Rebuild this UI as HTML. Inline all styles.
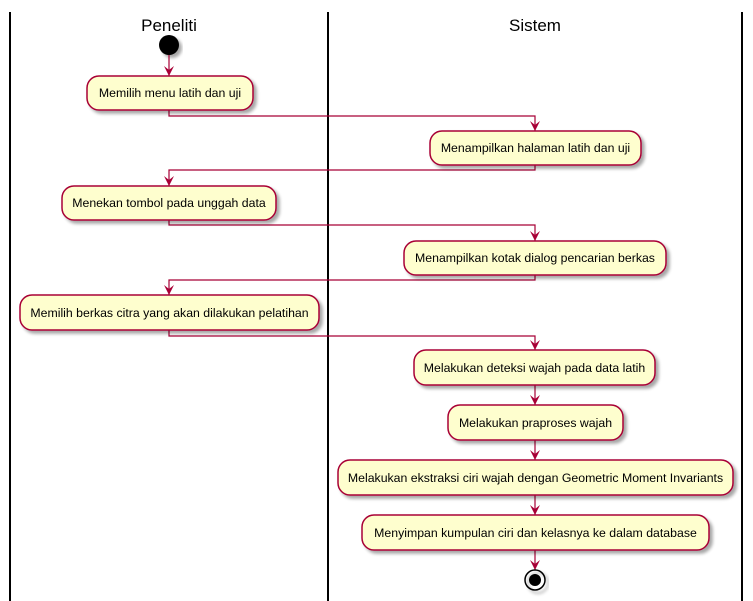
<!DOCTYPE html>
<html><head><meta charset="utf-8"><style>
html,body{margin:0;padding:0;background:#fff;width:753px;height:601px;overflow:hidden}
text{font-family:"Liberation Sans",sans-serif;font-size:12.3px;fill:#000}
</style></head><body>
<svg width="753" height="601" viewBox="0 0 753 601" xmlns="http://www.w3.org/2000/svg">
<defs>
<filter id="sh" x="-10%" y="-20%" width="130%" height="160%"><feGaussianBlur in="SourceAlpha" stdDeviation="1.5"/><feOffset dx="3" dy="3"/><feComponentTransfer><feFuncA type="linear" slope="0.35"/></feComponentTransfer><feMerge><feMergeNode/><feMergeNode in="SourceGraphic"/></feMerge></filter>
</defs>
<g stroke="#000" stroke-width="2">
<line x1="10" y1="12" x2="10" y2="601"/><line x1="328" y1="12" x2="328" y2="601"/><line x1="742" y1="12" x2="742" y2="601"/>
</g>
<text x="169" y="31" text-anchor="middle" style="font-size:17px">Peneliti</text>
<text x="535" y="31" text-anchor="middle" style="font-size:17px">Sistem</text>
<circle cx="169" cy="45" r="10" fill="#000" filter="url(#sh)"/>
<g fill="none" stroke="#A80036" stroke-width="1.2">
<path d="M169,55 V76"/>
<path d="M169,110 V116 H535 V131"/>
<path d="M535,165 V170 H169 V186"/>
<path d="M169,220 V225 H535 V241"/>
<path d="M535,275 V280 H169 V295"/>
<path d="M169,330 V336 H535 V350"/>
<path d="M535,385 V405"/>
<path d="M535,440 V460"/>
<path d="M535,495 V515"/>
<path d="M535,550 V570"/>
</g>
<g fill="#A80036">
<path d="M164,66 L169,76 L174,66 L169,70Z"/>
<path d="M530,121 L535,131 L540,121 L535,125Z"/>
<path d="M164,176 L169,186 L174,176 L169,180Z"/>
<path d="M530,231 L535,241 L540,231 L535,235Z"/>
<path d="M164,285 L169,295 L174,285 L169,289Z"/>
<path d="M530,340 L535,350 L540,340 L535,344Z"/>
<path d="M530,395 L535,405 L540,395 L535,399Z"/>
<path d="M530,450 L535,460 L540,450 L535,454Z"/>
<path d="M530,505 L535,515 L540,505 L535,509Z"/>
<path d="M530,560 L535,570 L540,560 L535,564Z"/>
</g>
<g fill="#FEFECE" stroke="#A80036" stroke-width="1.5" filter="url(#sh)">
<rect x="87" y="76" width="166" height="34" rx="12"/>
<rect x="430" y="131" width="211" height="34" rx="12"/>
<rect x="62" y="186" width="214" height="34" rx="12"/>
<rect x="404" y="241" width="262" height="34" rx="12"/>
<rect x="20" y="295" width="299" height="35" rx="12"/>
<rect x="414" y="350" width="241" height="35" rx="12"/>
<rect x="448" y="405" width="175" height="35" rx="12"/>
<rect x="338" y="460" width="395" height="35" rx="12"/>
<rect x="362" y="515" width="347" height="35" rx="12"/>
</g>
<text x="170" y="97" text-anchor="middle">Memilih menu latih dan uji</text>
<text x="535.5" y="152" text-anchor="middle">Menampilkan halaman latih dan uji</text>
<text x="169" y="207" text-anchor="middle">Menekan tombol pada unggah data</text>
<text x="535" y="262" text-anchor="middle">Menampilkan kotak dialog pencarian berkas</text>
<text x="169.5" y="317" text-anchor="middle">Memilih berkas citra yang akan dilakukan pelatihan</text>
<text x="534.5" y="372" text-anchor="middle">Melakukan deteksi wajah pada data latih</text>
<text x="535.5" y="427" text-anchor="middle">Melakukan praproses wajah</text>
<text x="535.5" y="482" text-anchor="middle">Melakukan ekstraksi ciri wajah dengan Geometric Moment Invariants</text>
<text x="535.5" y="537" text-anchor="middle">Menyimpan kumpulan ciri dan kelasnya ke dalam database</text>
<circle cx="535" cy="580" r="10" fill="none" stroke="#000" stroke-width="1.5" filter="url(#sh)"/>
<circle cx="535" cy="580" r="6" fill="#000"/>
</svg>
</body></html>
